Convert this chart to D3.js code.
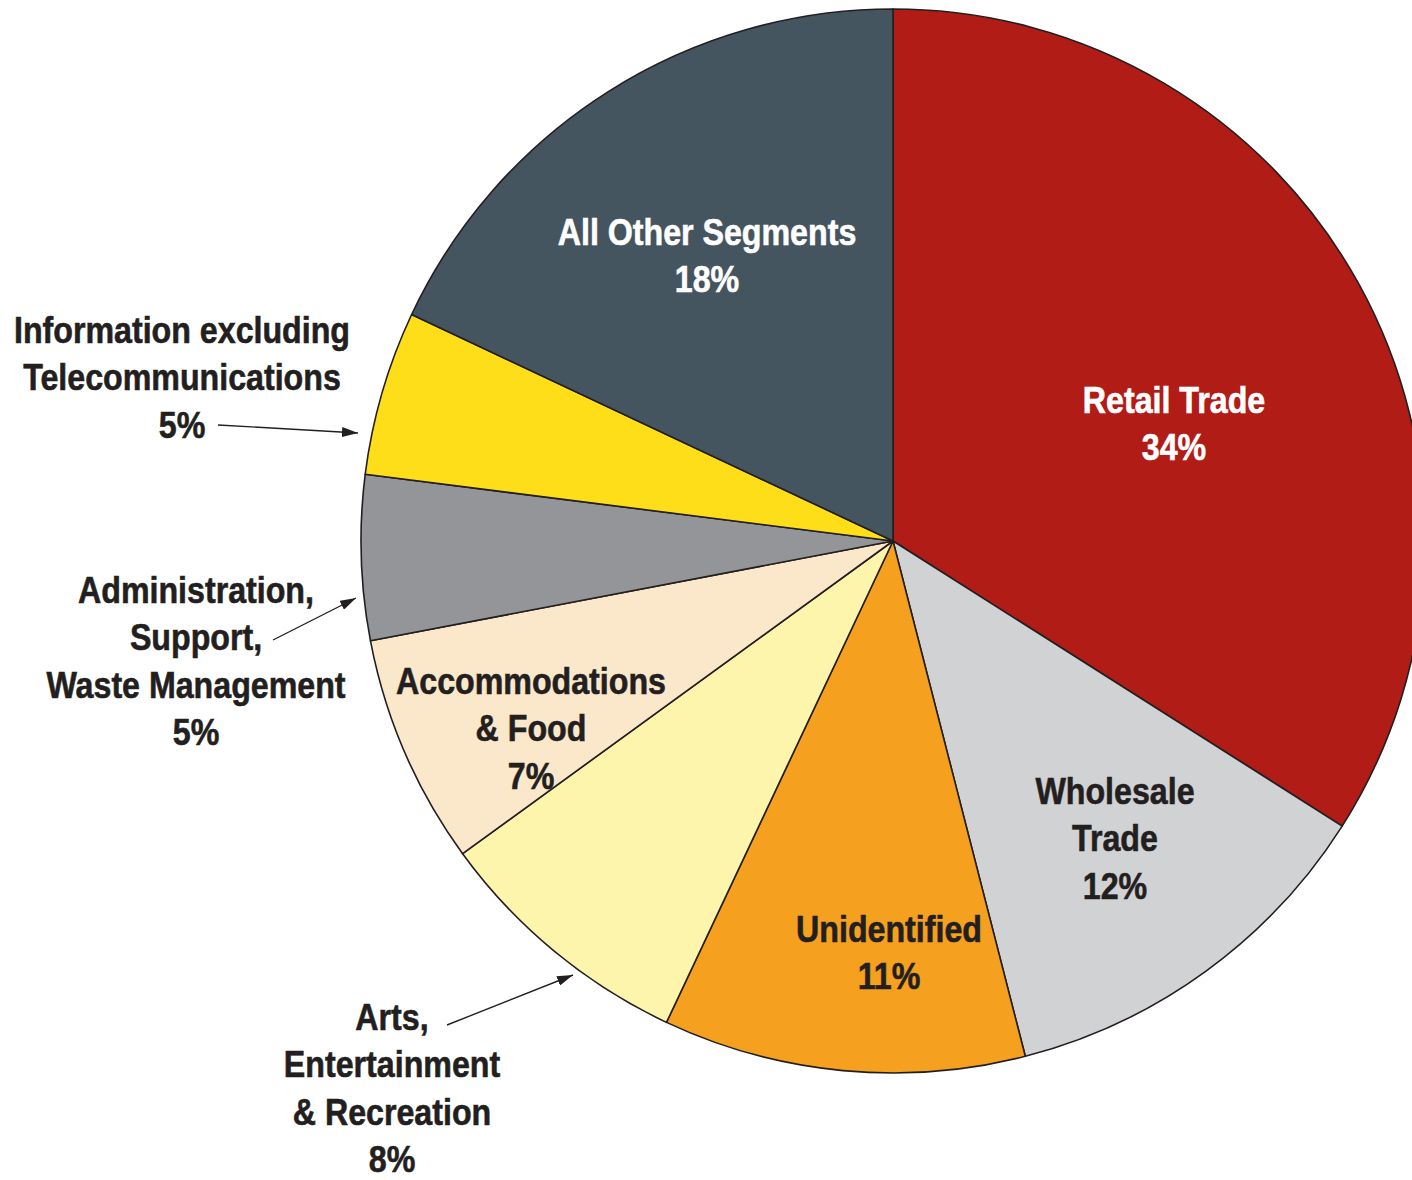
<!DOCTYPE html>
<html>
<head>
<meta charset="utf-8">
<script src="https://cdn.jsdelivr.net/npm/d3@7"></script>
<style>
  html, body { margin: 0; padding: 0; background: #ffffff; }
  svg { display: block; }
  text { font-family: "Liberation Sans", Arial, Helvetica, sans-serif; font-weight: bold; }
</style>
</head>
<body>
<svg id="chart" width="1412" height="1180"></svg>
<script>
// Share of segments, clockwise from 12 o'clock
const segments = [
  "Retail Trade",
  "Wholesale Trade",
  "Unidentified",
  "Arts, Entertainment & Recreation",
  "Accommodations & Food",
  "Administration, Support, Waste Management",
  "Information excluding Telecommunications",
  "All Other Segments"
];
const shares = [34, 12, 11, 8, 7, 5, 5, 18];
const sliceColors = ["#B21C17", "#D1D2D4", "#F5A01F", "#FEF5AC", "#FBE8CB", "#939598", "#FEDD19", "#45555F"];

// Label text lines (the percentage is appended as the last line)
const labelLines = [
  ["Retail Trade"],
  ["Wholesale", "Trade"],
  ["Unidentified"],
  ["Arts,", "Entertainment", "& Recreation"],
  ["Accommodations", "& Food"],
  ["Administration,", "Support,", "Waste Management"],
  ["Information excluding", "Telecommunications"],
  ["All Other Segments"]
];

const width = 1412, height = 1180;
const cx = 893, cy = 541, radius = 532;
const ink = "#231F20";
const fontSize = 37, lineGap = 47.3;
const condense = 0.87;   // horizontal squeeze for a condensed bold look

// Label placement: centre x / first baseline relative to pie centre, text colour,
// and optional leader arrow (from, to) relative to pie centre
const labelLayout = [
  { dx: 281, dy: -128, fill: "#ffffff" },
  { dx: 222, dy: 263, fill: ink },
  { dx: -4, dy: 401, fill: ink },
  { dx: -501, dy: 489, fill: ink, arrow: [[-446, 484], [-320, 434]] },
  { dx: -362, dy: 153, fill: ink },
  { dx: -697, dy: 62, fill: ink, arrow: [[-620, 99], [-537, 57]] },
  { dx: -711, dy: -198, fill: ink, arrow: [[-675, -116], [-535, -108]] },
  { dx: -186, dy: -296, fill: "#ffffff" }
];

const svg = d3.select("#chart");

svg.append("defs").append("marker")
  .attr("id", "arrowhead")
  .attr("viewBox", "0 0 16 10")
  .attr("refX", 16).attr("refY", 5)
  .attr("markerWidth", 16).attr("markerHeight", 10)
  .attr("markerUnits", "userSpaceOnUse")
  .attr("orient", "auto")
  .append("path")
  .attr("d", "M0,0 L16,5 L0,10 Z")
  .attr("fill", ink);

const g = svg.append("g").attr("transform", `translate(${cx},${cy})`);

const pie = d3.pie().sort(null).value(d => d);
const arcs = pie(shares);
const arc = d3.arc().innerRadius(0).outerRadius(radius);
const color = d3.scaleOrdinal().domain(segments).range(sliceColors);

g.selectAll("path.slice")
  .data(arcs)
  .join("path")
  .attr("class", "slice")
  .attr("d", arc)
  .attr("fill", (d, i) => color(segments[i]))
  .attr("stroke", ink)
  .attr("stroke-width", 1.6)
  .attr("stroke-linejoin", "round");

// Labels
const labels = g.selectAll("text.label")
  .data(arcs)
  .join("text")
  .attr("class", "label")
  .attr("text-anchor", "middle")
  .attr("font-size", fontSize)
  .attr("fill", (d, i) => labelLayout[i].fill)
  .attr("stroke", (d, i) => labelLayout[i].fill)
  .attr("stroke-width", 0.6)
  .attr("transform", (d, i) => `translate(${labelLayout[i].dx},${labelLayout[i].dy}) scale(${condense},1)`);

labels.each(function(d, i) {
  const lines = labelLines[i].concat([`${shares[i]}%`]);
  d3.select(this).selectAll("tspan")
    .data(lines)
    .join("tspan")
    .attr("x", 0)
    .attr("y", (t, k) => k * lineGap)
    .text(t => t);
});

// Leader arrows for the small slices
g.selectAll("line.leader")
  .data(labelLayout.filter(l => l.arrow))
  .join("line")
  .attr("class", "leader")
  .attr("x1", l => l.arrow[0][0]).attr("y1", l => l.arrow[0][1])
  .attr("x2", l => l.arrow[1][0]).attr("y2", l => l.arrow[1][1])
  .attr("stroke", ink)
  .attr("stroke-width", 1.4)
  .attr("marker-end", "url(#arrowhead)");
</script>
</body>
</html>
